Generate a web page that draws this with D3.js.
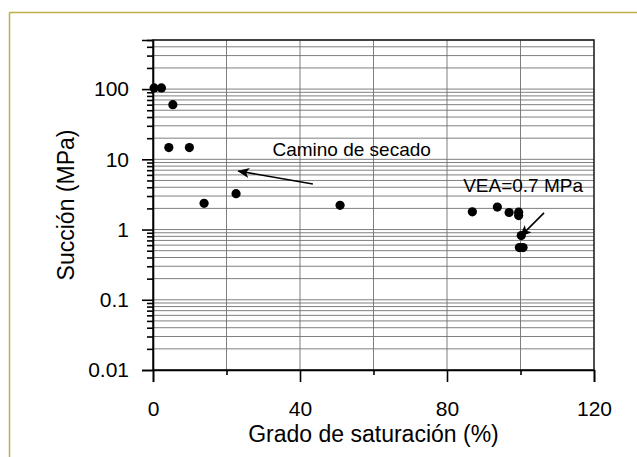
<!DOCTYPE html>
<html>
<head>
<meta charset="utf-8">
<script src="https://cdn.jsdelivr.net/npm/d3@7"></script>
<style>
  html, body { margin: 0; padding: 0; background: #fff; }
  svg { display: block; font-family: "Liberation Sans", Arial, sans-serif; }
</style>
</head>
<body>
<svg id="chart" width="637" height="457"></svg>
<script>
// Grado de saturación (%) and succión (MPa) for each measured specimen
const saturacion = [0.3, 2.3, 5.4, 4.3, 9.9, 13.9, 22.6, 50.9, 86.9, 93.7, 96.9, 99.5, 99.5, 100.2, 99.7, 100.7];
const succion    = [104, 104, 60, 14.7, 14.7, 2.36, 3.24, 2.21, 1.79, 2.09, 1.75, 1.77, 1.58, 0.82, 0.553, 0.553];

const xMajorTicks = [0, 40, 80, 120];
const xMinorTicks = [20, 60, 100];
const yMajorTicks = [0.01, 0.1, 1, 10, 100];
const yTickLabels = ["0.01", "0.1", "1", "10", "100"];

// Annotations: label anchors and arrows given in data units
const anotaciones = [
  { texto: "Camino de secado", x: 32.5, y: 11.0, desde: [43.5, 4.45], hasta: [23.2, 6.8] },
  { texto: "VEA=0.7 MPa",      x: 84.4, y: 3.45, desde: [106.4, 1.73], hasta: [100.0, 0.80] }
];

const W = 637, H = 457;
const m = { left: 153, top: 40, right: 43, bottom: 87 };
const pw = W - m.left - m.right, ph = H - m.top - m.bottom;

const svg = d3.select("#chart");

// outer frame (top and left edges visible)
svg.append("line").attr("x1", 9.5).attr("x2", W).attr("y1", 12.5).attr("y2", 12.5)
  .attr("stroke", "#bdb043").attr("stroke-width", 1.5);
svg.append("line").attr("x1", 9.5).attr("x2", 9.5).attr("y1", 12.5).attr("y2", H)
  .attr("stroke", "#bdb043").attr("stroke-width", 1.5);

const x = d3.scaleLinear().domain([0, 120]).range([0, pw]);
const y = d3.scaleLog().domain([0.01, 500]).range([ph, 0]);

const g = svg.append("g").attr("transform", `translate(${m.left},${m.top})`);

// minor log values 2..9 in each decade
const yMinorTicks = [];
[0.01, 0.1, 1, 10, 100].forEach(d => {
  for (let k = 2; k <= 9; k++) {
    const v = d * k;
    if (v <= 500) yMinorTicks.push(v);
  }
});

// grid
const grid = g.append("g");
yMinorTicks.concat(yMajorTicks).forEach(v => {
  grid.append("line").attr("x1", 0).attr("x2", pw)
    .attr("y1", y(v)).attr("y2", y(v))
    .attr("stroke", "#707070").attr("stroke-width", 0.9);
});
[20, 40, 60, 80, 100].forEach(v => {
  grid.append("line").attr("y1", 0).attr("y2", ph)
    .attr("x1", x(v)).attr("x2", x(v))
    .attr("stroke", "#707070").attr("stroke-width", 0.9);
});

// frame of the plot area
g.append("rect").attr("width", pw).attr("height", ph)
  .attr("fill", "none").attr("stroke", "#222").attr("stroke-width", 1.6);

// y axis
const yMinorAxis = d3.axisLeft(y).tickValues(yMinorTicks).tickSize(6).tickFormat("");
const yMajorAxis = d3.axisLeft(y).tickValues(yMajorTicks).tickSize(11).tickPadding(13)
  .tickFormat((d, i) => yTickLabels[i]);
g.append("g").call(yMinorAxis).call(s => s.select(".domain").remove())
  .selectAll("line").attr("stroke", "#000").attr("stroke-width", 1.6);
const ya = g.append("g").call(yMajorAxis);
ya.select(".domain").attr("stroke", "#000").attr("stroke-width", 1.6);
ya.selectAll("line").attr("stroke", "#000").attr("stroke-width", 1.6);
ya.selectAll("text").attr("font-size", 21).attr("fill", "#000")
  .attr("font-family", "Liberation Sans, Arial, sans-serif");

// x axis
const xMinorAxis = d3.axisBottom(x).tickValues(xMinorTicks).tickSize(5).tickFormat("");
const xMajorAxis = d3.axisBottom(x).tickValues(xMajorTicks).tickSize(12).tickPadding(19)
  .tickFormat(d3.format("d"));
g.append("g").attr("transform", `translate(0,${ph})`).call(xMinorAxis)
  .call(s => s.select(".domain").remove())
  .selectAll("line").attr("stroke", "#000").attr("stroke-width", 1.6);
const xa = g.append("g").attr("transform", `translate(0,${ph})`).call(xMajorAxis);
xa.select(".domain").attr("stroke", "#000").attr("stroke-width", 1.6);
xa.selectAll("line").attr("stroke", "#000").attr("stroke-width", 1.6);
xa.selectAll("text").attr("font-size", 21).attr("fill", "#000")
  .attr("font-family", "Liberation Sans, Arial, sans-serif");

// axis titles
g.append("text").attr("x", pw / 2).attr("y", ph + 72)
  .attr("text-anchor", "middle").attr("font-size", 23).attr("fill", "#000")
  .text("Grado de saturación (%)");
g.append("text")
  .attr("transform", `translate(${74 - m.left},${ph / 2}) rotate(-90)`)
  .attr("text-anchor", "middle").attr("font-size", 23).attr("fill", "#000")
  .text("Succión (MPa)");

// data points
g.append("g").selectAll("circle")
  .data(saturacion.map((s, i) => ({ s, p: succion[i] })))
  .join("circle")
  .attr("cx", d => x(d.s)).attr("cy", d => y(d.p)).attr("r", 4.6)
  .attr("fill", "#000");

// annotations with arrows
svg.append("defs").append("marker")
  .attr("id", "punta").attr("viewBox", "0 0 12 10")
  .attr("refX", 11).attr("refY", 5).attr("markerWidth", 12).attr("markerHeight", 10)
  .attr("markerUnits", "userSpaceOnUse").attr("orient", "auto")
  .append("path").attr("d", "M0,0 L12,5 L0,10 L3,5 Z").attr("fill", "#000");

anotaciones.forEach(a => {
  g.append("text").attr("x", x(a.x)).attr("y", y(a.y))
    .attr("font-size", 19).attr("fill", "#000").text(a.texto);
  g.append("line")
    .attr("x1", x(a.desde[0])).attr("y1", y(a.desde[1]))
    .attr("x2", x(a.hasta[0])).attr("y2", y(a.hasta[1]))
    .attr("stroke", "#000").attr("stroke-width", 1.6)
    .attr("marker-end", "url(#punta)");
});
</script>
</body>
</html>
